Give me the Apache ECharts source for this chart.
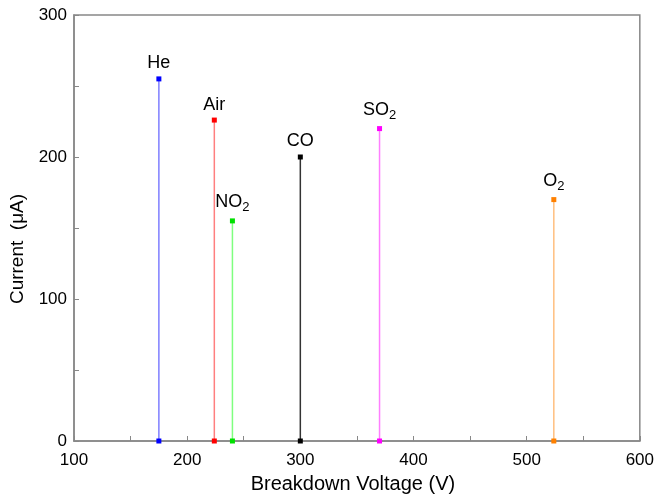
<!DOCTYPE html>
<html><head><meta charset="utf-8">
<script src="https://cdn.jsdelivr.net/npm/echarts@6/dist/echarts.min.js"></script>
<style>html,body{margin:0;padding:0;background:#fff}#c{width:657px;height:499px}</style>
</head><body><div id="c"></div>
<script>
const gases = ['He', 'Air', 'NO2', 'CO', 'SO2', 'O2'];
const gasLabels = ['He', 'Air', 'NO{sub|2}', 'CO', 'SO{sub|2}', 'O{sub|2}'];
const voltages = [175, 224, 240, 300, 370, 524];
const currents = [255, 226, 155, 200, 220, 170];
const markerColors = ['#0000ff', '#ff0000', '#00e000', '#000000', '#ff00ff', '#ff8000'];
const lineColors = ['#7f7fff', '#ff7f7f', '#7fff7f', '#333333', '#ff7fff', '#ffbf7f'];
const xTicks = [100, 200, 300, 400, 500, 600];
const yTicks = [0, 100, 200, 300];

const font = 'Liberation Sans, Arial, Helvetica, sans-serif';
const series = gases.map((g, i) => ({
  name: g,
  type: 'line',
  data: [[voltages[i], 0], [voltages[i], currents[i]]],
  symbol: 'rect',
  symbolSize: 5,
  showAllSymbol: true,
  itemStyle: { color: markerColors[i] },
  lineStyle: { color: lineColors[i], width: 1.5 },
  label: {
    show: true,
    position: 'top',
    distance: 4,
    color: '#000',
    fontFamily: font,
    fontSize: 18,
    formatter: p => p.dataIndex === 1 ? gasLabels[i] : '',
    rich: { sub: { fontSize: 13, fontFamily: font, color: '#000', verticalAlign: 'bottom', padding: [11, 0, 0, 0] } }
  },
  z: 3
}));

const chart = echarts.init(document.getElementById('c'));
chart.setOption({
  animation: false,
  backgroundColor: '#fff',
  grid: { left: 74, right: 13, top: 15, bottom: 58, show: true, borderColor: '#888', borderWidth: 1.5 },
  xAxis: {
    type: 'value', min: xTicks[0], max: xTicks[xTicks.length - 1], interval: 100,
    name: 'Breakdown Voltage (V)', nameLocation: 'middle', nameGap: 33,
    nameTextStyle: { fontFamily: font, fontSize: 20, color: '#000', padding: [0, 8, 0, 0] },
    axisLine: { show: true, lineStyle: { color: '#888', width: 1.5 } },
    axisTick: { show: true, inside: true, length: 5, lineStyle: { color: '#888' } },
    minorTick: { show: true, splitNumber: 2, length: 5, lineStyle: { color: '#888' } },
    axisLabel: { fontFamily: font, fontSize: 17, color: '#000', margin: 11 },
    splitLine: { show: false }
  },
  yAxis: {
    type: 'value', min: yTicks[0], max: yTicks[yTicks.length - 1], interval: 100,
    name: 'Current  (μA)', nameLocation: 'middle', nameGap: 43,
    nameTextStyle: { fontFamily: font, fontSize: 19, color: '#000', padding: [0, 42, 0, 0] },
    axisLine: { show: true, lineStyle: { color: '#888', width: 1.5 } },
    axisTick: { show: true, inside: true, length: 5, lineStyle: { color: '#888' } },
    minorTick: { show: true, splitNumber: 2, length: 5, lineStyle: { color: '#888' } },
    axisLabel: { fontFamily: font, fontSize: 17, color: '#000', margin: 7 },
    splitLine: { show: false }
  },
  series: series
});
</script></body></html>
